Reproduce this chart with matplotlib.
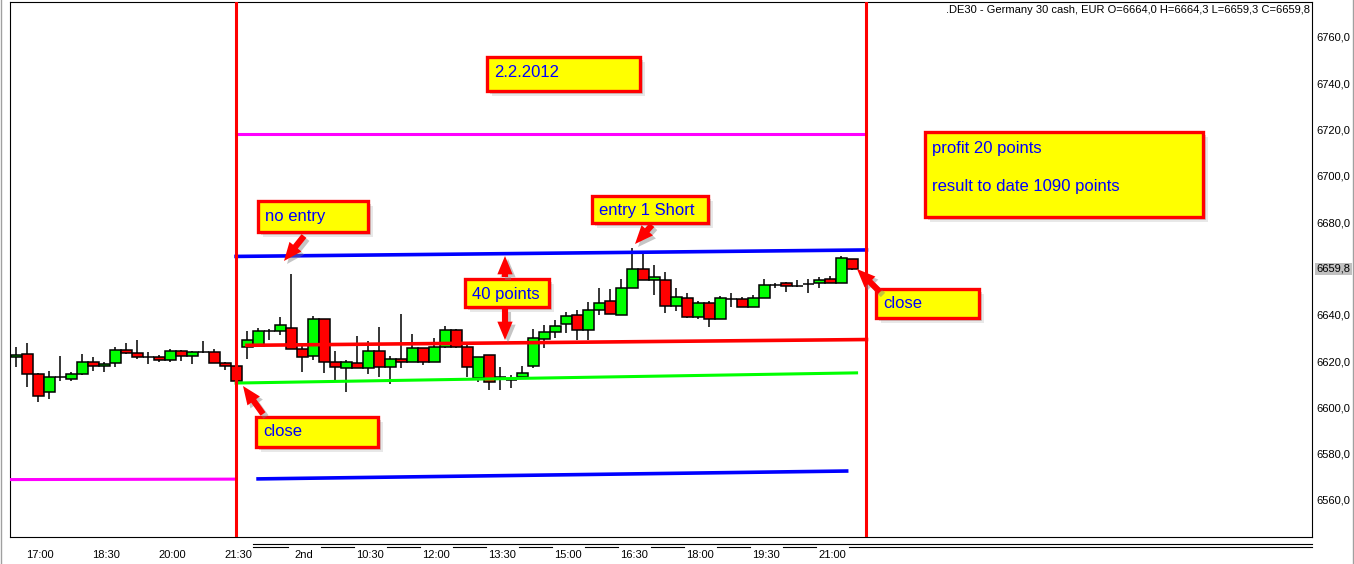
import matplotlib
matplotlib.use('Agg')
import matplotlib.pyplot as plt
from matplotlib.patches import Rectangle, FancyArrowPatch
from matplotlib.lines import Line2D
import numpy as np

plt.rcParams['font.family'] = ['Liberation Sans', 'DejaVu Sans']

W, H = 1354, 564

# --- DE30 15-minute candles, 1.2. 16:30 -> 2.2. close ---------------------
opens = [6621.8, 6623.1, 6614.4, 6606.7, 6613.2, 6612.3, 6614.4, 6619.6, 6617.9, 6619.2,
         6624.8, 6623.5, 6621.8, 6621.8, 6620.5, 6624.4, 6622.2, 6623.9, 6623.9, 6619.2,
         6617.9,
         6626.1, 6626.5, 6633.0, 6633.0, 6634.3, 6625.2, 6622.2, 6638.2, 6619.6, 6617.0,
         6619.2, 6617.0, 6624.4, 6617.4, 6620.9, 6619.6, 6625.7, 6619.6, 6626.1, 6633.4,
         6626.1, 6612.7, 6622.6, 6613.1, 6612.0, 6613.1, 6617.9, 6629.5, 6632.6, 6636.0,
         6639.9, 6633.4, 6642.1, 6646.0, 6639.9, 6651.6, 6659.8, 6655.0, 6655.0, 6643.8,
         6647.3, 6639.0, 6645.1, 6638.2, 6646.8, 6646.8, 6643.4, 6647.3, 6653.0, 6653.7,
         6652.5, 6653.5, 6653.7, 6655.5, 6653.7, 6664.0]
highs = [6626.1, 6627.8, 6614.8, 6615.7, 6622.2, 6615.2, 6623.1, 6621.8, 6619.6, 6626.1,
         6627.8, 6629.1, 6623.9, 6622.6, 6625.2, 6624.8, 6624.4, 6628.7, 6625.2, 6619.6,
         6619.2,
         6633.0, 6634.3, 6633.9, 6639.0, 6657.6, 6627.8, 6639.5, 6638.2, 6624.4, 6620.5,
         6630.8, 6628.7, 6634.7, 6622.0, 6640.3, 6631.7, 6625.7, 6630.0, 6635.0, 6634.0,
         6627.0, 6621.8, 6622.6, 6617.4, 6614.0, 6617.9, 6633.9, 6635.6, 6637.8, 6641.2,
         6642.1, 6645.5, 6651.6, 6651.0, 6655.5, 6668.9, 6666.7, 6661.5, 6658.5, 6651.6,
         6649.4, 6646.0, 6646.0, 6648.1, 6649.4, 6647.7, 6648.6, 6655.5, 6653.7, 6654.2,
         6655.0, 6655.5, 6656.3, 6656.8, 6665.4, 6664.3]
lows = [6617.4, 6608.8, 6602.3, 6603.6, 6611.4, 6611.6, 6614.0, 6615.7, 6615.3, 6617.4,
        6623.1, 6621.0, 6618.7, 6619.6, 6619.6, 6620.0, 6618.7, 6623.5, 6619.2, 6616.2,
        6610.0,
        6620.9, 6626.5, 6629.1, 6631.3, 6625.2, 6615.3, 6620.5, 6614.9, 6611.4, 6606.7,
        6617.0, 6614.4, 6613.1, 6610.1, 6617.0, 6619.6, 6618.3, 6619.6, 6625.5, 6625.5,
        6613.1, 6611.0, 6607.5, 6607.5, 6608.4, 6613.1, 6617.0, 6625.7, 6630.0, 6632.1,
        6629.1, 6629.1, 6639.9, 6640.3, 6639.9, 6651.6, 6655.0, 6648.6, 6640.8, 6641.6,
        6638.6, 6638.2, 6634.7, 6638.2, 6643.4, 6643.4, 6643.4, 6647.3, 6651.6, 6649.9,
        6652.0, 6649.4, 6651.6, 6653.7, 6653.7, 6659.3]
closes = [6622.6, 6614.4, 6604.9, 6613.1, 6613.2, 6614.4, 6619.6, 6617.9, 6618.7, 6624.8,
          6623.5, 6621.8, 6621.8, 6620.5, 6624.4, 6622.2, 6623.9, 6623.9, 6619.2, 6617.9,
          6611.4,
          6629.1, 6633.0, 6633.0, 6635.6, 6625.2, 6621.8, 6638.2, 6619.6, 6617.4, 6619.6,
          6617.0, 6624.4, 6617.4, 6620.9, 6619.6, 6625.7, 6619.6, 6626.1, 6633.4, 6626.1,
          6617.4, 6621.8, 6611.0, 6613.1, 6612.0, 6614.9, 6630.0, 6632.6, 6635.2, 6639.5,
          6633.4, 6642.1, 6645.1, 6640.3, 6651.6, 6659.8, 6655.0, 6656.3, 6643.8, 6647.7,
          6639.0, 6645.1, 6638.2, 6647.3, 6646.8, 6643.4, 6647.3, 6652.9, 6653.0, 6652.5,
          6652.5, 6653.5, 6655.0, 6653.7, 6664.5, 6659.8]

tick_idx = [2, 8, 14, 20, 26, 32, 38, 44, 50, 56, 62, 68, 74]
tick_lbl = ['17:00', '18:30', '20:00', '21:30', '2nd', '10:30', '12:00',
            '13:30', '15:00', '16:30', '18:00', '19:30', '21:00']
y_ticks = [6560, 6580, 6600, 6620, 6640, 6680, 6700, 6720, 6740, 6760]
last_price = 6659.8

session_x = [20, 77.3]

# levels (start/end candle, start/end price)
mag1_x, mag1_y = [-1, 20], [6568.8, 6569.0]
mag2_x, mag2_y = [20, 77.3], [6718.0, 6718.0]
bhi_x, bhi_y = [20, 77.3], [6665.2, 6668.0]
blo_x, blo_y = [22, 75.5], [6569.1, 6572.5]
red_x, red_y = [21, 77.3], [6626.8, 6629.3]
grn_x, grn_y = [20, 76.4], [6610.5, 6614.9]


def fx(x):
    return x / W


def fy(y):
    return 1 - y / H


fig = plt.figure(figsize=(W / 100, H / 100), dpi=100, facecolor='white')
ax = fig.add_axes([fx(10), fy(537), 1302 / W, 535 / H])

x = np.arange(len(opens))
o = np.array(opens)
c = np.array(closes)
cols = np.where(c > o, '#00FF00', np.where(c < o, '#FF0000', 'black'))
ax.vlines(x, lows, highs, color='black', lw=1.1, zorder=2)
ax.bar(x, np.abs(c - o), bottom=np.minimum(o, c), width=1.0, color=cols,
       edgecolor='black', linewidth=1.1, zorder=3)

ax.plot(mag1_x, mag1_y, color='#FF00FF', lw=2.2, zorder=4)
ax.plot(mag2_x, mag2_y, color='#FF00FF', lw=2.2, zorder=4)
ax.plot(bhi_x, bhi_y, color='#0000FF', lw=2.6, zorder=4)
ax.plot(blo_x, blo_y, color='#0000FF', lw=2.6, zorder=4)
ax.plot(red_x, red_y, color='#FF0000', lw=2.6, zorder=4)
ax.plot(grn_x, grn_y, color='#00FF00', lw=2.2, zorder=4)
for sx in session_x:
    ax.axvline(sx, color='#FF0000', lw=2.2, zorder=5)

ax.set_xlim(-0.55, 117.8)
ax.set_ylim(6544.0, 6775.1)
ax.set_xticks([t + 0.2 for t in tick_idx])
ax.set_xticklabels(tick_lbl)
ax.yaxis.tick_right()
ax.set_yticks(y_ticks)
ax.set_yticklabels([f'{v},0' for v in y_ticks])
ax.tick_params(axis='x', length=0, pad=9, labelsize=8)
ax.tick_params(axis='y', length=0, pad=3, labelsize=8)
for sp in ax.spines.values():
    sp.set_linewidth(0.8)
ax.annotate(f'{last_price:.1f}'.replace('.', ','), xy=(1, last_price),
            xycoords=ax.get_yaxis_transform(), xytext=(3, 0), textcoords='offset points',
            ha='left', va='center', fontsize=8,
            bbox=dict(facecolor='#C0C0C0', edgecolor='none', pad=1))

# double line under the second day
xt = ax.get_xaxis_transform()
ax.plot([21.5, 117.8], [-0.013, -0.013], transform=xt, color='black', lw=0.8, clip_on=False)
day2 = [t + 0.2 for t in tick_idx[4:]]
starts = [21.5] + [t + 1.5 for t in day2]
ends = [t - 1.5 for t in day2] + [117.8]
for s, e in zip(starts, ends):
    ax.plot([s, e], [-0.019, -0.019], transform=xt, color='black', lw=0.8, clip_on=False)

fig.text(fx(1310), fy(10), '.DE30 - Germany 30 cash, EUR O=6664,0 H=6664,3 L=6659,3 C=6659,8',
         ha='right', va='center', fontsize=8)

fig.add_artist(Line2D([fx(0.5), fx(0.5)], [0, 1], color='#A0A0A0', lw=1))
fig.add_artist(Line2D([fx(1352.5), fx(1352.5)], [0, 1], color='#A0A0A0', lw=1))


def note(x0, y0, x1, y1, lines):
    for off, a in ((5, 0.18), (3, 0.3)):
        fig.add_artist(Rectangle((fx(x0 + off), fy(y1 + off)), (x1 - x0) / W, (y1 - y0) / H,
                                 transform=fig.transFigure, facecolor='#808080', alpha=a,
                                 edgecolor='none', zorder=9))
    fig.add_artist(Rectangle((fx(x0), fy(y1)), (x1 - x0) / W, (y1 - y0) / H,
                             transform=fig.transFigure, facecolor='#FFFF00',
                             edgecolor='#FF0000', linewidth=2.4, zorder=10))
    for ty, txt in lines:
        fig.text(fx(x0 + 7), fy(ty), txt, color='#0000FF', fontsize=12,
                 ha='left', va='center', zorder=11)


def arrow(x0, y0, x1, y1):
    for d, col, a in ((3, '#808080', 0.45), (0, '#FF0000', 1.0)):
        fig.add_artist(FancyArrowPatch((fx(x0 + d), fy(y0 + d)), (fx(x1 + d), fy(y1 + d)),
                                       transform=fig.transFigure,
                                       arrowstyle='simple,head_length=1.2,head_width=1.0,tail_width=0.4',
                                       mutation_scale=11, color=col, alpha=a, lw=0,
                                       shrinkA=0, shrinkB=0, zorder=12))


note(487, 57, 640, 91, [(73, '2.2.2012')])
note(925, 132, 1203, 217, [(148, 'profit 20 points'), (186, 'result to date 1090 points')])
note(258, 201, 368, 232, [(216, 'no entry')])
note(592, 196, 708, 223, [(210, 'entry 1 Short')])
note(465, 279, 549, 307, [(294, '40 points')])
note(256, 417, 378, 447, [(432, 'close')])
note(876, 289, 979, 318, [(304, 'close')])

arrow(304, 236, 284, 261)
arrow(652, 225, 635, 244)
arrow(505, 277, 505, 256)
arrow(505, 309, 505, 340)
arrow(263, 414, 243, 386)
arrow(880, 292, 857, 269)

fig.savefig('out.png', dpi=100, facecolor='white')
